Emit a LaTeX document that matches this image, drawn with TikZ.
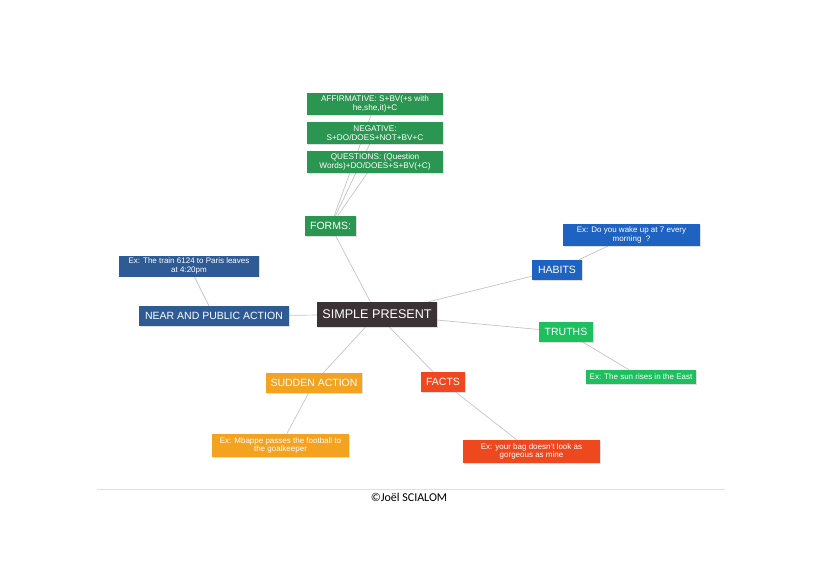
\documentclass[tikz,border=0pt]{standalone}
\usepackage{fontspec}
\setmainfont{Liberation Sans}
\newfontfamily\calib{Carlito}
\usetikzlibrary{backgrounds,shadows}
\definecolor{fgreen}{HTML}{2B9552}
\definecolor{tgreen}{HTML}{1DBF5E}
\definecolor{nblue}{HTML}{2F5B94}
\definecolor{hblue}{HTML}{1F63C2}
\definecolor{spdark}{HTML}{3A3234}
\definecolor{sorange}{HTML}{F4A321}
\definecolor{fred}{HTML}{F0481E}
\definecolor{linkgray}{HTML}{C4C4C4}
\tikzset{
  box/.style={rectangle, inner sep=0pt, align=center, text=white,
    drop shadow={opacity=0.25, shadow xshift=0.8pt, shadow yshift=-0.8pt}},
  mainbox/.style={box, font=\fontsize{12.6}{14}\selectfont},
  catbox/.style={box, font=\fontsize{10.5}{12}\selectfont, minimum height=20pt},
  exbox/.style={box, font=\fontsize{8}{8.6}\selectfont},
  formbox/.style={box, fill=fgreen, minimum width=136pt, minimum height=22pt, font=\fontsize{8.2}{9}\selectfont},
  link/.style={draw=linkgray, line width=0.7pt}
}
\begin{document}
\begin{tikzpicture}[x=1pt,y=-1pt]
\useasboundingbox (0,0) rectangle (821,580);
% nodes
\node[formbox] (aff) at (375,104) {AFFIRMATIVE: S+BV(+s with\\he,she,it)+C};
\node[formbox] (neg) at (375,133) {NEGATIVE:\\S+DO/DOES+NOT+BV+C};
\node[formbox] (que) at (375,162) {QUESTIONS: (Question\\Words)+DO/DOES+S+BV(+C)};
\node[catbox, fill=fgreen, minimum width=51pt] (forms) at (330.5,226) {FORMS:};
\node[exbox, fill=nblue, minimum width=140pt, minimum height=21pt] (extrain) at (189,266) {Ex: The train 6124 to Paris leaves\\at 4:20pm};
\node[catbox, fill=nblue, minimum width=150pt] (near) at (214,316) {NEAR AND PUBLIC ACTION};
\node[mainbox, fill=spdark, minimum width=120pt, minimum height=25pt] (sp) at (377,314.5) {SIMPLE PRESENT};
\node[exbox, fill=hblue, minimum width=137pt, minimum height=22pt] (exwake) at (631.5,235) {Ex: Do you wake up at 7 every\\morning\ \ ?};
\node[catbox, fill=hblue, minimum width=50pt] (habits) at (557,270) {HABITS};
\node[catbox, fill=tgreen, minimum width=54pt] (truths) at (566,332) {TRUTHS};
\node[exbox, fill=tgreen, minimum width=110pt, minimum height=14pt] (exsun) at (641,377) {Ex: The sun rises in the East};
\node[catbox, fill=sorange, minimum width=96pt] (sudden) at (314,383) {SUDDEN ACTION};
\node[catbox, fill=fred, minimum width=44pt] (facts) at (443,382) {FACTS};
\node[exbox, fill=sorange, minimum width=137pt, minimum height=23pt] (exmbappe) at (280.5,445.5) {Ex: Mbappe passes the football to\\the goalkeeper};
\node[exbox, fill=fred, minimum width=137pt, minimum height=23pt] (exbag) at (531.5,451.5) {Ex: your bag doesn't look as\\gorgeous as mine};
\coordinate (rl) at (97,489);
\coordinate (rr) at (725,489);
\node[font=\calib\fontsize{12}{14}\selectfont, text=black] (copy) at (409,497) {©Joël SCIALOM};
% connectors
\begin{pgfonlayer}{background}
\draw[link] (forms) -- (aff.center);
\draw[link] (forms) -- (neg.center);
\draw[link] (forms) -- (que.center);
\draw[link] (sp) -- (forms);
\draw[link] (sp) -- (near);
\draw[link] (near) -- (extrain);
\draw[link] (sp) -- (habits);
\draw[link] (habits) -- (exwake);
\draw[link] (sp) -- (truths);
\draw[link] (truths) -- (exsun);
\draw[link] (sp) -- (sudden);
\draw[link] (sudden) -- (exmbappe);
\draw[link] (sp) -- (facts);
\draw[link] (facts) -- (exbag);
\draw[draw=black!12, line width=0.8pt] (rl) -- (rr);
\end{pgfonlayer}
\end{tikzpicture}
\end{document}
